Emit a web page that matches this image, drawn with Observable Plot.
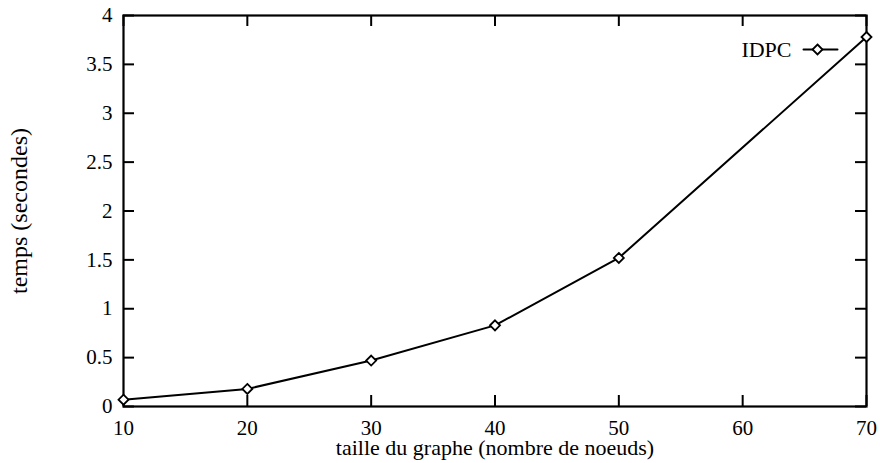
<!DOCTYPE html>
<html>
<head>
<meta charset="utf-8">
<script src="https://cdn.jsdelivr.net/npm/d3@7"></script>
<script src="https://cdn.jsdelivr.net/npm/@observablehq/plot@0.6"></script>
<style>
  html, body { margin: 0; padding: 0; background: white; }
</style>
</head>
<body>
<div id="chart"></div>
<script>
const xValues = [10, 20, 30, 40, 50, 70];
const yValues = [0.07, 0.18, 0.47, 0.83, 1.52, 3.78];
const xTicks = [10, 20, 30, 40, 50, 60, 70];
const yTicks = [0, 0.5, 1, 1.5, 2, 2.5, 3, 3.5, 4];
const seriesName = "IDPC";
const xLabel = "taille du graphe (nombre de noeuds)";
const yLabel = "temps (secondes)";

const W = 880, H = 463;
const mL = 123, mR = 14, mT = 15, mB = 57;
const TICK = 11;
const frameW = W - mL - mR, frameH = H - mT - mB;

const data = xValues.map((x, i) => ({x, y: yValues[i]}));
const lineShape = {draw(c, l) { c.moveTo(0, 0); c.lineTo(0, -l); }};
const fmt = d => `${d}`;
const tickStyle = {stroke: "#000", strokeWidth: 2};

const chart = Plot.plot({
  width: W,
  height: H,
  marginLeft: mL,
  marginRight: mR,
  marginTop: mT,
  marginBottom: mB,
  x: {domain: [10, 70]},
  y: {domain: [0, 4]},
  style: {fontFamily: "'Liberation Serif', serif", fontSize: "21px", color: "black", background: "white"},
  marks: [
    Plot.axisX(xTicks, {anchor: "bottom", tickSize: 0, tickPadding: 14, label: null, fontSize: 21, tickFormat: fmt}),
    Plot.axisY(yTicks, {anchor: "left", tickSize: 0, tickPadding: 11, label: null, fontSize: 21, tickFormat: fmt}),
    Plot.tickX(xTicks, {x: d => d, insetTop: frameH - TICK, ...tickStyle}),
    Plot.tickX(xTicks, {x: d => d, insetBottom: frameH - TICK, ...tickStyle}),
    Plot.tickY(yTicks, {y: d => d, insetRight: frameW - TICK, ...tickStyle}),
    Plot.tickY(yTicks, {y: d => d, insetLeft: frameW - TICK, ...tickStyle}),
    Plot.frame({stroke: "black", strokeWidth: 2.2}),
    Plot.line(data, {x: "x", y: "y", stroke: "black", strokeWidth: 2}),
    Plot.dot(data, {x: "x", y: "y", symbol: "diamond2", r: 4.5, fill: "white", stroke: "black", strokeWidth: 1.8}),
    Plot.text([seriesName], {frameAnchor: "top-right", dx: -75, dy: 34, textAnchor: "end", lineAnchor: "middle", fontSize: 22}),
    Plot.vector([seriesName], {frameAnchor: "top-right", dx: -46, dy: 34, length: 34, rotate: 90, anchor: "middle", shape: lineShape, stroke: "black", strokeWidth: 2}),
    Plot.dot([seriesName], {frameAnchor: "top-right", dx: -49, dy: 34, symbol: "diamond2", r: 4.5, fill: "white", stroke: "black", strokeWidth: 1.8}),
    Plot.text([xLabel], {frameAnchor: "bottom", dy: 41, textAnchor: "middle", lineAnchor: "middle", fontSize: 22}),
    Plot.text([yLabel], {frameAnchor: "left", dx: -104, dy: 0, rotate: -90, textAnchor: "middle", lineAnchor: "middle", fontSize: 24})
  ]
});
document.getElementById("chart").appendChild(chart);
</script>
</body>
</html>
